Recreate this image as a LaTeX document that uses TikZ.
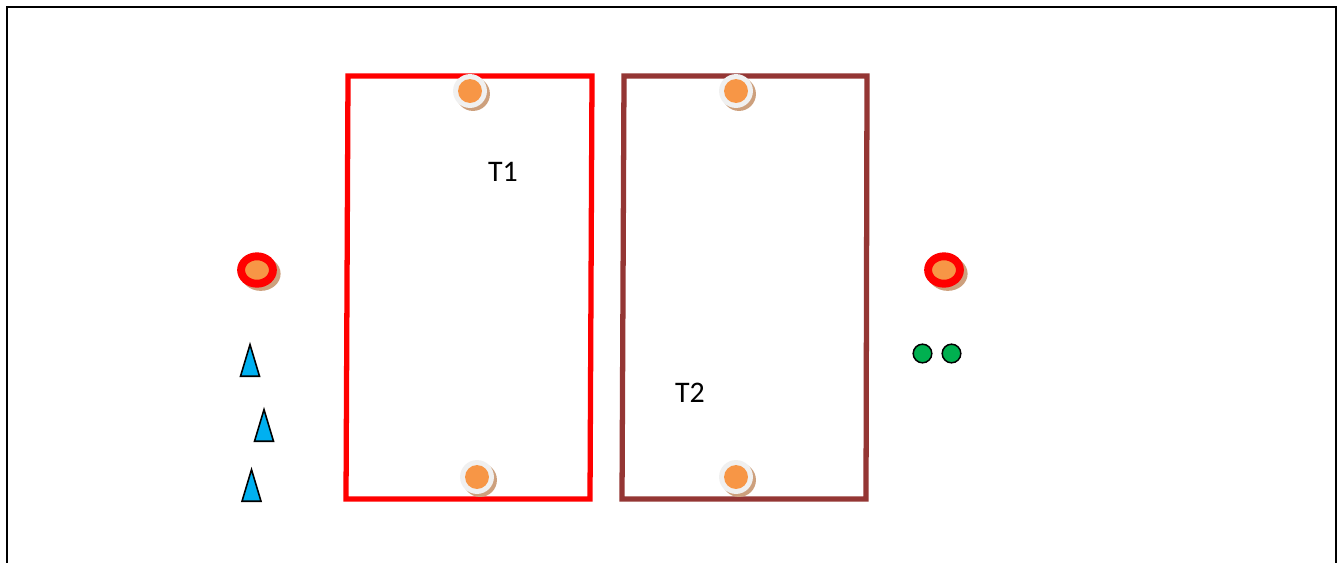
\documentclass[tikz,border=0pt]{standalone}
\usepackage{fontspec}
\setmainfont{Carlito}
\usetikzlibrary{shapes.geometric,% cones and ellipses
shadows}%                        drop shadows under the discs
\definecolor{discorange}{HTML}{F79646}
\definecolor{conecyan}{HTML}{00B0F0}
\definecolor{dotgreen}{HTML}{00B050}
\definecolor{teambrown}{HTML}{943634}
\definecolor{shadowtan}{RGB}{205,160,125}
\tikzset{every node/.style={font=\fontsize{17}{20}\selectfont},
  disc/.style={circle,inner sep=0pt,minimum size=19.3pt,fill=white!94!black,
    drop shadow={shadow xshift=1.7pt,shadow yshift=-1.7pt,fill=shadowtan,opacity=1}},
  discdot/.style={circle,inner sep=0pt,minimum size=13.6pt,fill=discorange},
  ringdisc/.style={ellipse,inner sep=0pt,minimum width=18.1pt,minimum height=15.6pt,
    draw=red,line width=4.5pt,fill=discorange,
    drop shadow={shadow xshift=1.7pt,shadow yshift=-1.7pt,shadow scale=1.25,fill=shadowtan,opacity=1}},
  cone/.style={isosceles triangle,shape border rotate=90,isosceles triangle stretches,
    minimum width=10.8pt,minimum height=18pt,inner sep=0pt,anchor=south,
    draw=black,line width=0.9pt,fill=conecyan},
  marker/.style={circle,inner sep=0pt,minimum size=10.6pt,draw=black,line width=0.85pt,fill=dotgreen}}

\begin{document}
\begin{tikzpicture}[x=0.02cm,y=-0.02cm]
    \clip (0,0) rectangle (1344,562);
    \fill[white] (0,0) rectangle (1344,562);
    \draw[line width=1.13pt] (7,600) -- (7,7) -- (1336,7) -- (1336,600);
    % the two areas
    \draw[red,line width=3pt] (348,76) -- (592,76) -- (590,499) -- (346,499) -- cycle;
    \draw[teambrown,line width=3pt] (624,76) -- (867,76) -- (866,499) -- (622,499) -- cycle;
    \node (t1) at (503,172) {T1};
    \node (t2) at (690,393) {T2};
    % discs on the lines
    \foreach \n/\x/\y in {a/470/91, b/736/91, c/477/477, d/736/477} {
      \node[disc] (disc\n) at (\x,\y) {};
      \node[discdot] at (disc\n) {};
    }
    \node[ringdisc] (ringl) at (257,270) {};
    \node[ringdisc] (ringr) at (944,270) {};
    \foreach \n/\x/\y in {1/250/377, 2/264/442, 3/251.5/502}
      \node[cone] (cone\n) at (\x,\y) {};
    \node[marker] (ball1) at (922.5,353.5) {};
    \node[marker] (ball2) at (951.5,353.5) {};
\end{tikzpicture}
\end{document}
